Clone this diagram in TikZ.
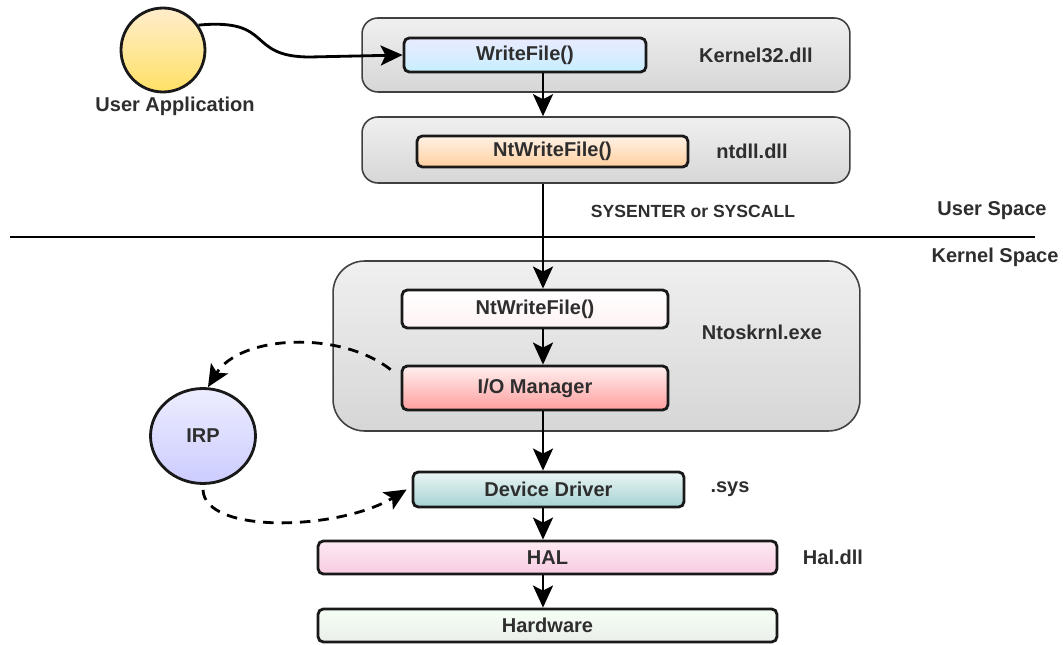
\documentclass[tikz,border=0pt]{standalone}
\usepackage{fontspec}
\setmainfont{Liberation Sans}
\usetikzlibrary{arrows.meta,shapes.geometric}

\definecolor{txt}{HTML}{2E2E2E}
\definecolor{halTop}{HTML}{FDEAF3}
\definecolor{halBot}{HTML}{F8CCE2}

\tikzset{
	layer/.style={draw=black!75, line width=0.9pt, rounded corners=9pt, top color=gray!12, bottom color=gray!32, inner sep=0pt},
	call/.style={draw=black!90, line width=1.6pt, rounded corners=3pt, inner sep=0pt, text=txt, font=\fontsize{11.4}{13}\selectfont\bfseries},
	tag/.style={text=txt, font=\fontsize{11.4}{13}\selectfont\bfseries},
	flow/.style={line width=1.6pt, -{Stealth[length=4.4mm, width=4mm, inset=1mm]}},
	ref/.style={flow, dash pattern=on 6pt off 4.5pt},
}

\begin{document}
\begin{tikzpicture}[x=0.02cm, y=-0.02cm]
		\useasboundingbox (0,0) rectangle (1063,645);
		\coordinate (axis) at (543,0);
		
		\node[layer, minimum width=9.76cm, minimum height=1.48cm] (k32) at (606,55) {};
		\node[layer, minimum width=9.76cm, minimum height=1.32cm] (ntdll) at (606,150) {};
		\node[layer, rounded corners=18pt, minimum width=10.54cm, minimum height=3.4cm] (ntos) at (596.5,346) {};
		
		\node[call, top color=blue!8, bottom color=blue!28!cyan!22, minimum width=4.84cm, minimum height=0.68cm] (wfile) at (525,55) {WriteFile()};
		\node[call, top color=orange!10, bottom color=orange!38, minimum width=5.42cm, minimum height=0.62cm] (ntwfile) at (552.5,151.5) {NtWriteFile()};
		\node[call, top color=white, bottom color=magenta!10!red!5, minimum width=5.32cm, minimum height=0.76cm] (kwfile) at (535,309) {NtWriteFile()};
		\node[call, top color=red!6, bottom color=red!38, minimum width=5.32cm, minimum height=0.88cm] (iomgr) at (535,388) {I/O Manager};
		\node[call, top color=teal!8, bottom color=teal!35, minimum width=5.42cm, minimum height=0.7cm] (driver) at (548.5,489.5) {Device Driver};
		\node[call, top color=halTop, bottom color=halBot, minimum width=9.18cm, minimum height=0.66cm] (hal) at (547.5,557.5) {HAL};
		\node[call, top color=green!4, bottom color=green!18!black!8, minimum width=9.18cm, minimum height=0.66cm] (hw) at (547.5,625.5) {Hardware};
		
		\node[tag] (k32name) at (756,55) {Kernel32.dll};
		\node[tag] (ntdllname) at (752,151) {ntdll.dll};
		\node[tag] (ntosname) at (762,332) {Ntoskrnl.exe};
		\node[tag] (sysname) at (730,489) {.sys};
		\node[tag] (halname) at (833,557) {Hal.dll};
		\node[tag, font=\fontsize{10}{12}\selectfont\bfseries] (trap) at (693,211) {SYSENTER or SYSCALL};
		\node[tag] (user) at (992,211) {User Space};
		\node[tag] (kernel) at (995,257) {Kernel Space};
		
		\node[circle, draw=black!90, line width=1.6pt, top color=yellow!30!orange!20, bottom color=yellow!60!orange!60, minimum size=1.68cm, inner sep=0pt] (app) at (163,50) {};
		\node[tag] (appname) at (175,106) {User Application};
		\node[ellipse, draw=black!90, line width=1.6pt, top color=blue!7, bottom color=blue!20, minimum width=2.1cm, minimum height=1.9cm, inner sep=0pt, text=txt, font=\fontsize{11.4}{13}\selectfont\bfseries] (irp) at (203,436) {IRP};
		
		\coordinate (splitL) at (10,237);
		\coordinate (splitR) at (1035,237);
		\draw[line width=1.6pt] (splitL) -- (splitR);
		
		\draw[flow] (app.35) .. controls (275,18) and (245,57) .. (310,57) -- (wfile.west);
		\draw[flow] (wfile.south -| axis) -- (ntdll.north -| axis);
		\draw[flow] (ntdll.south -| axis) -- (kwfile.north -| axis);
		\draw[flow] (kwfile.south -| axis) -- (iomgr.north -| axis);
		\draw[flow] (iomgr.south -| axis) -- (driver.north -| axis);
		\draw[flow] (driver.south -| axis) -- (hal.north -| axis);
		\draw[flow] (hal.south -| axis) -- (hw.north -| axis);
		
		\draw[ref] ([xshift=-0.2cm, yshift=-0.1cm]iomgr.north west) .. controls (340,330) and (240,335) .. ([xshift=0.1cm]irp.north);
		\draw[ref] ([yshift=-0.1cm]irp.south) .. controls (205,535) and (340,530) .. ([xshift=-0.1cm]driver.west);
\end{tikzpicture}
\end{document}
